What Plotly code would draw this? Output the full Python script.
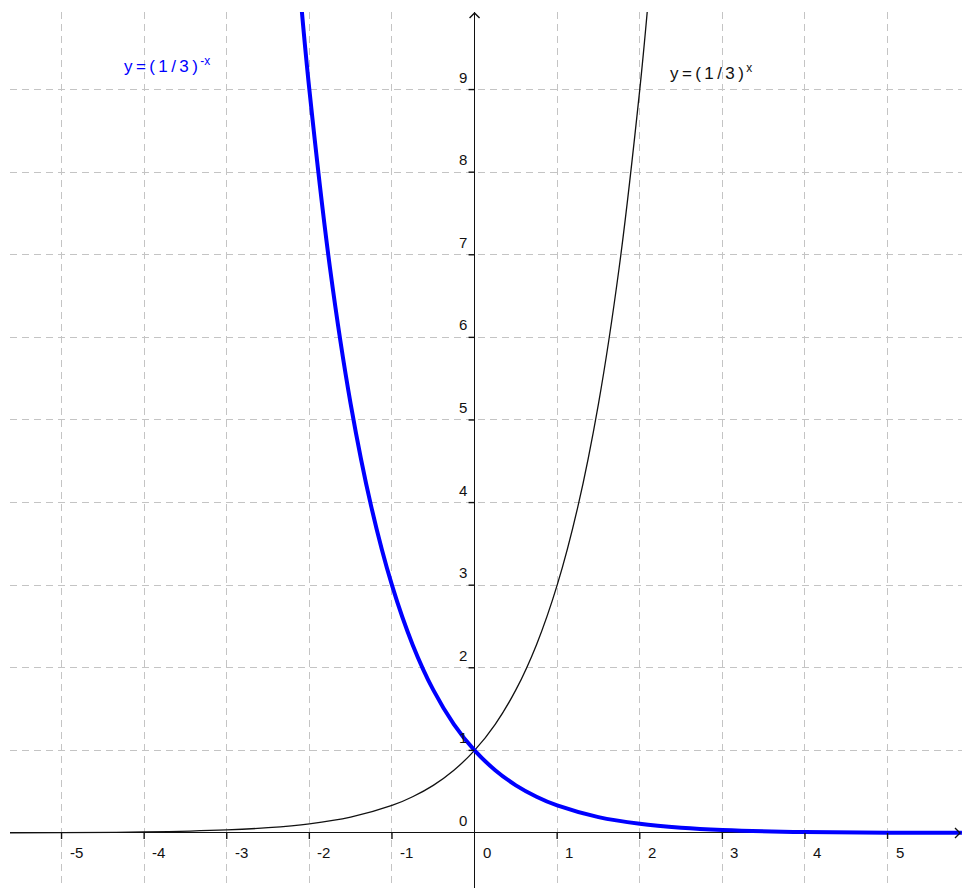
import plotly.graph_objects as go

# Sampled points of y = (1/3)^x (decreasing curve, drawn thick blue)
blue_x = [-2.1, -2.0, -1.75, -1.5, -1.25, -1.0, -0.75, -0.5, -0.25, 0.0,
          0.25, 0.5, 0.75, 1.0, 1.5, 2.0, 2.5, 3.0, 4.0, 5.0, 5.9]
blue_y = [10.05, 9.0, 6.84, 5.196, 3.948, 3.0, 2.280, 1.732, 1.316, 1.0,
          0.760, 0.577, 0.439, 0.333, 0.192, 0.111, 0.064, 0.037, 0.012, 0.004, 0.002]

# Sampled points of y = 3^x (increasing curve, drawn thin black)
black_x = [-5.7, -5.0, -4.0, -3.0, -2.5, -2.0, -1.5, -1.0, -0.75, -0.5, -0.25, 0.0,
           0.25, 0.5, 0.75, 1.0, 1.25, 1.5, 1.75, 2.0, 2.1]
black_y = [0.002, 0.004, 0.012, 0.037, 0.064, 0.111, 0.192, 0.333, 0.439, 0.577, 0.760, 1.0,
           1.316, 1.732, 2.280, 3.0, 3.948, 5.196, 6.84, 9.0, 10.05]

x_ticks = [-5, -4, -3, -2, -1, 0, 1, 2, 3, 4, 5]
y_ticks = [0, 1, 2, 3, 4, 5, 6, 7, 8, 9]

TS = "\u2009"  # thin space, gives the function labels their airy spacing
blue_label = TS.join("y=(1/3)") + "<sup>" + TS + "-x</sup>"
black_label = TS.join("y=(1/3)") + "<sup>" + TS + "x</sup>"

X_RANGE = [-5.624, 5.901]
Y_RANGE = [-0.666, 9.939]

FONT = "Liberation Sans, Arial, sans-serif"
AXIS_COLOR = "#111111"

fig = go.Figure()

fig.add_trace(go.Scatter(
    x=black_x, y=black_y, mode="lines",
    line=dict(color="#111111", width=1.3, shape="spline", smoothing=1.0),
    hoverinfo="skip", showlegend=False))
fig.add_trace(go.Scatter(
    x=blue_x, y=blue_y, mode="lines",
    line=dict(color="#0000ff", width=4, shape="spline", smoothing=1.0),
    hoverinfo="skip", showlegend=False))

shapes = []
# arrow heads (open chevrons), sized in pixels
shapes.append(dict(type="path", xref="x", yref="y", xsizemode="pixel", ysizemode="pixel",
                   xanchor=0, yanchor=Y_RANGE[1],
                   path="M -5,-6 L 0,-1 L 5,-6", line=dict(color=AXIS_COLOR, width=1.4)))
shapes.append(dict(type="path", xref="x", yref="y", xsizemode="pixel", ysizemode="pixel",
                   xanchor=X_RANGE[1], yanchor=0,
                   path="M -7,5 L -2,0 L -7,-5", line=dict(color=AXIS_COLOR, width=1.4)))
# tick marks
for t in x_ticks:
    if t == 0:
        continue
    shapes.append(dict(type="line", xref="x", yref="y", ysizemode="pixel", yanchor=0,
                       x0=t, x1=t, y0=0, y1=-6, line=dict(color=AXIS_COLOR, width=1.4)))
for t in y_ticks:
    if t == 0:
        continue
    shapes.append(dict(type="line", xref="x", yref="y", xsizemode="pixel", xanchor=0,
                       y0=t, y1=t, x0=0, x1=-6, line=dict(color=AXIS_COLOR, width=1.4)))

annotations = []
for t in x_ticks:
    annotations.append(dict(x=t, y=0, xref="x", yref="y", text=str(t), showarrow=False,
                            xanchor="left", yanchor="top", xshift=6, yshift=-9,
                            font=dict(family=FONT, size=15, color="#111111")))
for t in y_ticks:
    annotations.append(dict(x=0, y=t, xref="x", yref="y", text=str(t), showarrow=False,
                            xanchor="right", yanchor="bottom", xshift=-6, yshift=2,
                            font=dict(family=FONT, size=15, color="#111111")))

annotations.append(dict(x=-4.27, y=9.30, xref="x", yref="y", text=blue_label, showarrow=False,
                        xanchor="left", yanchor="middle",
                        font=dict(family=FONT, size=17, color="#0000ff")))
annotations.append(dict(x=2.34, y=9.21, xref="x", yref="y", text=black_label, showarrow=False,
                        xanchor="left", yanchor="middle",
                        font=dict(family=FONT, size=17, color="#111111")))

grid = dict(showgrid=True, gridcolor="#c4c4c4", gridwidth=1, griddash="7px,5px",
            zeroline=True, zerolinecolor=AXIS_COLOR, zerolinewidth=1.4,
            showticklabels=False, ticks="", showline=False, dtick=1, tick0=0)

fig.update_layout(
    width=962, height=888,
    margin=dict(l=10, r=0, t=12, b=0),
    paper_bgcolor="white", plot_bgcolor="white",
    xaxis=dict(range=X_RANGE, **grid),
    yaxis=dict(range=Y_RANGE, **grid),
    shapes=shapes, annotations=annotations,
    showlegend=False,
)

fig.write_html("out.html", config={"displayModeBar": False})
